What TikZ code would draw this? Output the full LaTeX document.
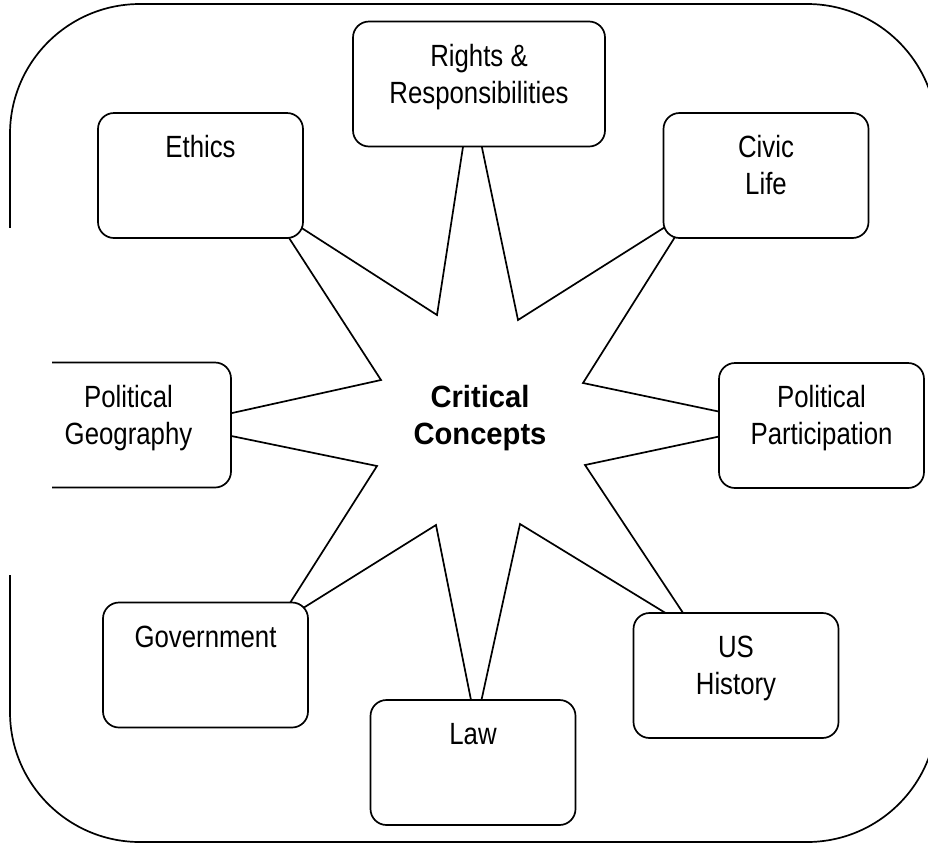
\documentclass[tikz,border=0pt]{standalone}
\usepackage{fontspec}
\setmainfont{Liberation Sans}[FakeStretch=0.84]
\newfontfamily\conceptfont{Liberation Sans}[FakeStretch=0.95]
\usetikzlibrary{positioning}
\tikzset{topic/.style={draw, fill=white,
    rounded corners=16pt,
    line width=1.7pt,
    minimum width=#1,
    minimum height=125pt,
    align=center,
    inner sep=0pt,
    font=\fontsize{30.7}{37}\selectfont
  },
  topic/.default=205pt,
  ray/.style={draw, fill=white, line width=1.7pt, line join=miter}
}
\newcommand{\twolines}[2]{\rule{0pt}{24pt}#1\\#2\rule[-23pt]{0pt}{0pt}}

\begin{document}
\begin{tikzpicture}[x=1pt,y=-1pt]
    \useasboundingbox (0,0) rectangle (928,844);
    \clip (0,0) rectangle (928,844);
    \draw[line width=1.7pt, rounded corners=130pt] (10,4) rectangle (937,842);
    % the star, its tips sit under the boxes
    \draw[ray] (471,95) -- (518,320) -- (692,210) -- (583,383) -- (778,424)
        -- (585,465) -- (695,631) -- (520,524) -- (476,725) -- (436,525)
        -- (276,625) -- (377,466) -- (178,425) -- (381,380) -- (269,207)
        -- (437,315) -- cycle;
    \node[topic=252pt] (rights) at (479,84) {\twolines{Rights \&}{Responsibilities}};
    \node[topic] (ethics) at (200.5,175.5) {\twolines{Ethics}{}};
    \node[topic] (civic) at (766,175.5) {\twolines{Civic}{Life}};
    \node[topic] (polgeo) at (128.5,425) {\twolines{Political}{Geography}};
    \node[topic] (polpart) at (821.5,425.5) {\twolines{Political}{Participation}};
    \node[topic] (govt) at (205.5,665) {\twolines{Government}{}};
    \node[topic] (ushist) at (736,675.5) {\twolines{US}{History}};
    \node[topic] (law) at (473,762.5) {\twolines{Law}{}};
    \fill[white] (0,228) rectangle (52,575);
    \node[align=center, inner sep=0pt, font=\fontsize{30.7}{37}\selectfont\conceptfont\bfseries]
        (concepts) at (480,425) {\twolines{Critical}{Concepts}};
\end{tikzpicture}
\end{document}
